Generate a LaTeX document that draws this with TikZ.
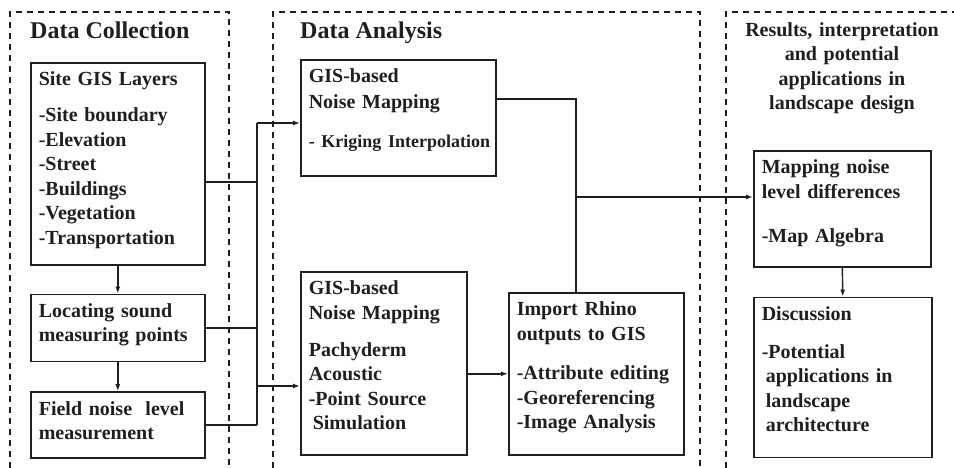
\documentclass[tikz,border=0pt]{standalone}
\usepackage{fontspec}
\setmainfont{Liberation Serif}
\usetikzlibrary{arrows.meta,positioning}

\begin{document}
\begin{tikzpicture}[x=1pt, y=-1pt, black!88, font=\bfseries\fontsize{20}{24.5}\selectfont]
% Define block styles
\tikzstyle{block} = [rectangle, draw, line width=1.6pt, anchor=north west,
    align=left, inner xsep=8pt, inner ysep=6pt, text height=17pt]
\tikzstyle{line} = [draw, line width=1.4pt, -{Latex[length=7pt,width=5pt]}]
\tikzstyle{wire} = [draw, line width=1.4pt]
\tikzstyle{panel} = [draw, line width=1.3pt, dash pattern=on 6pt off 5pt]
\tikzstyle{title} = [anchor=base west, inner sep=0pt, font=\bfseries\fontsize{24}{28}\selectfont]

    \useasboundingbox (0,0) rectangle (954,468);

    % Dashed panels
    \path[panel] (10,468) |- (229,12) -- (229,468);
    \path[panel] (273,468) |- (700,12) -- (700,468);
    \path[panel] (726,468) |- (954,12);

    % Headings
    \node[title] (hcol) at (30,39) {Data Collection};
    \node[title] (hana) at (300,39) {Data Analysis};
    \node[anchor=north, inner sep=0pt, text width=210pt, align=center,
        text height=16pt] (hres) at (842,20)
        {Results, interpretation\\and potential\\applications in\\landscape design};

    % Place nodes
    \node[block, text width=158pt, text depth=173pt] (site) at (30,62)
        {Site GIS Layers\\[11.5pt]-Site boundary\\-Elevation\\-Street\\-Buildings\\-Vegetation\\-Transportation};
    \node[block, text width=158pt, text depth=38pt, below=28pt of site.south west, anchor=north west] (loc)
        {Locating sound\\measuring points};
    \node[block, text width=158pt, text depth=37pt, below=29pt of loc.south west, anchor=north west] (field)
        {Field noise\ \ level\\measurement};
    \node[block, text width=179pt, text depth=87pt] (krig) at (300,59)
        {GIS-based\\[1.5pt]Noise Mapping\\[14.5pt]{\fontsize{18}{24.5}\selectfont\mbox{- Kriging Interpolation}}};
    \node[block, text width=150pt, text depth=154pt] (pach) at (300,271)
        {GIS-based\\Noise Mapping\\[12.5pt]Pachyderm\\Acoustic\\-Point Source\\\hspace*{4pt}Simulation};
    \node[block, text width=159pt, text depth=133pt] (imp) at (508,292)
        {Import Rhino\\outputs to GIS\\[15pt]-Attribute editing\\-Georeferencing\\-Image Analysis};
    \node[block, text width=161pt, text depth=87pt] (map) at (753,150)
        {Mapping noise\\level differences\\[19.5pt]-Map Algebra};
    \node[block, text width=162pt, text depth=131pt, below=29pt of map.south west, anchor=north west] (disc)
        {Discussion\\[13.5pt]-Potential\\\hspace*{4pt}applications in\\\hspace*{4pt}landscape\\\hspace*{4pt}architecture};

    % Junction points
    \coordinate (busA) at (257,123);
    \coordinate (busS) at (257,182);
    \coordinate (busB) at (257,386);
    \coordinate (turn) at (576,99);
    \coordinate (fork) at (576,197);

    % Draw edges
    \path[line] (site.south) -- (loc.north);
    \path[line] (loc.south) -- (field.north);
    \path[wire] (busA) -- (field.east -| busA);
    \path[wire] (site.east |- busS) -- (busS);
    \path[wire] (loc.east) -- (loc.east -| busA);
    \path[wire] (field.east) -- (field.east -| busA);
    \path[line] (busA) -- (krig.west |- busA);
    \path[line] (busB) -- (pach.west |- busB);
    \path[line] (pach.east |- imp.west) -- (imp.west);
    \path[wire] (krig.east |- turn) -- (turn) -- (turn |- imp.north);
    \path[line] (fork) -- (map.west |- fork);
    \path[line] (map.south) -- (disc.north);
\end{tikzpicture}
\end{document}
